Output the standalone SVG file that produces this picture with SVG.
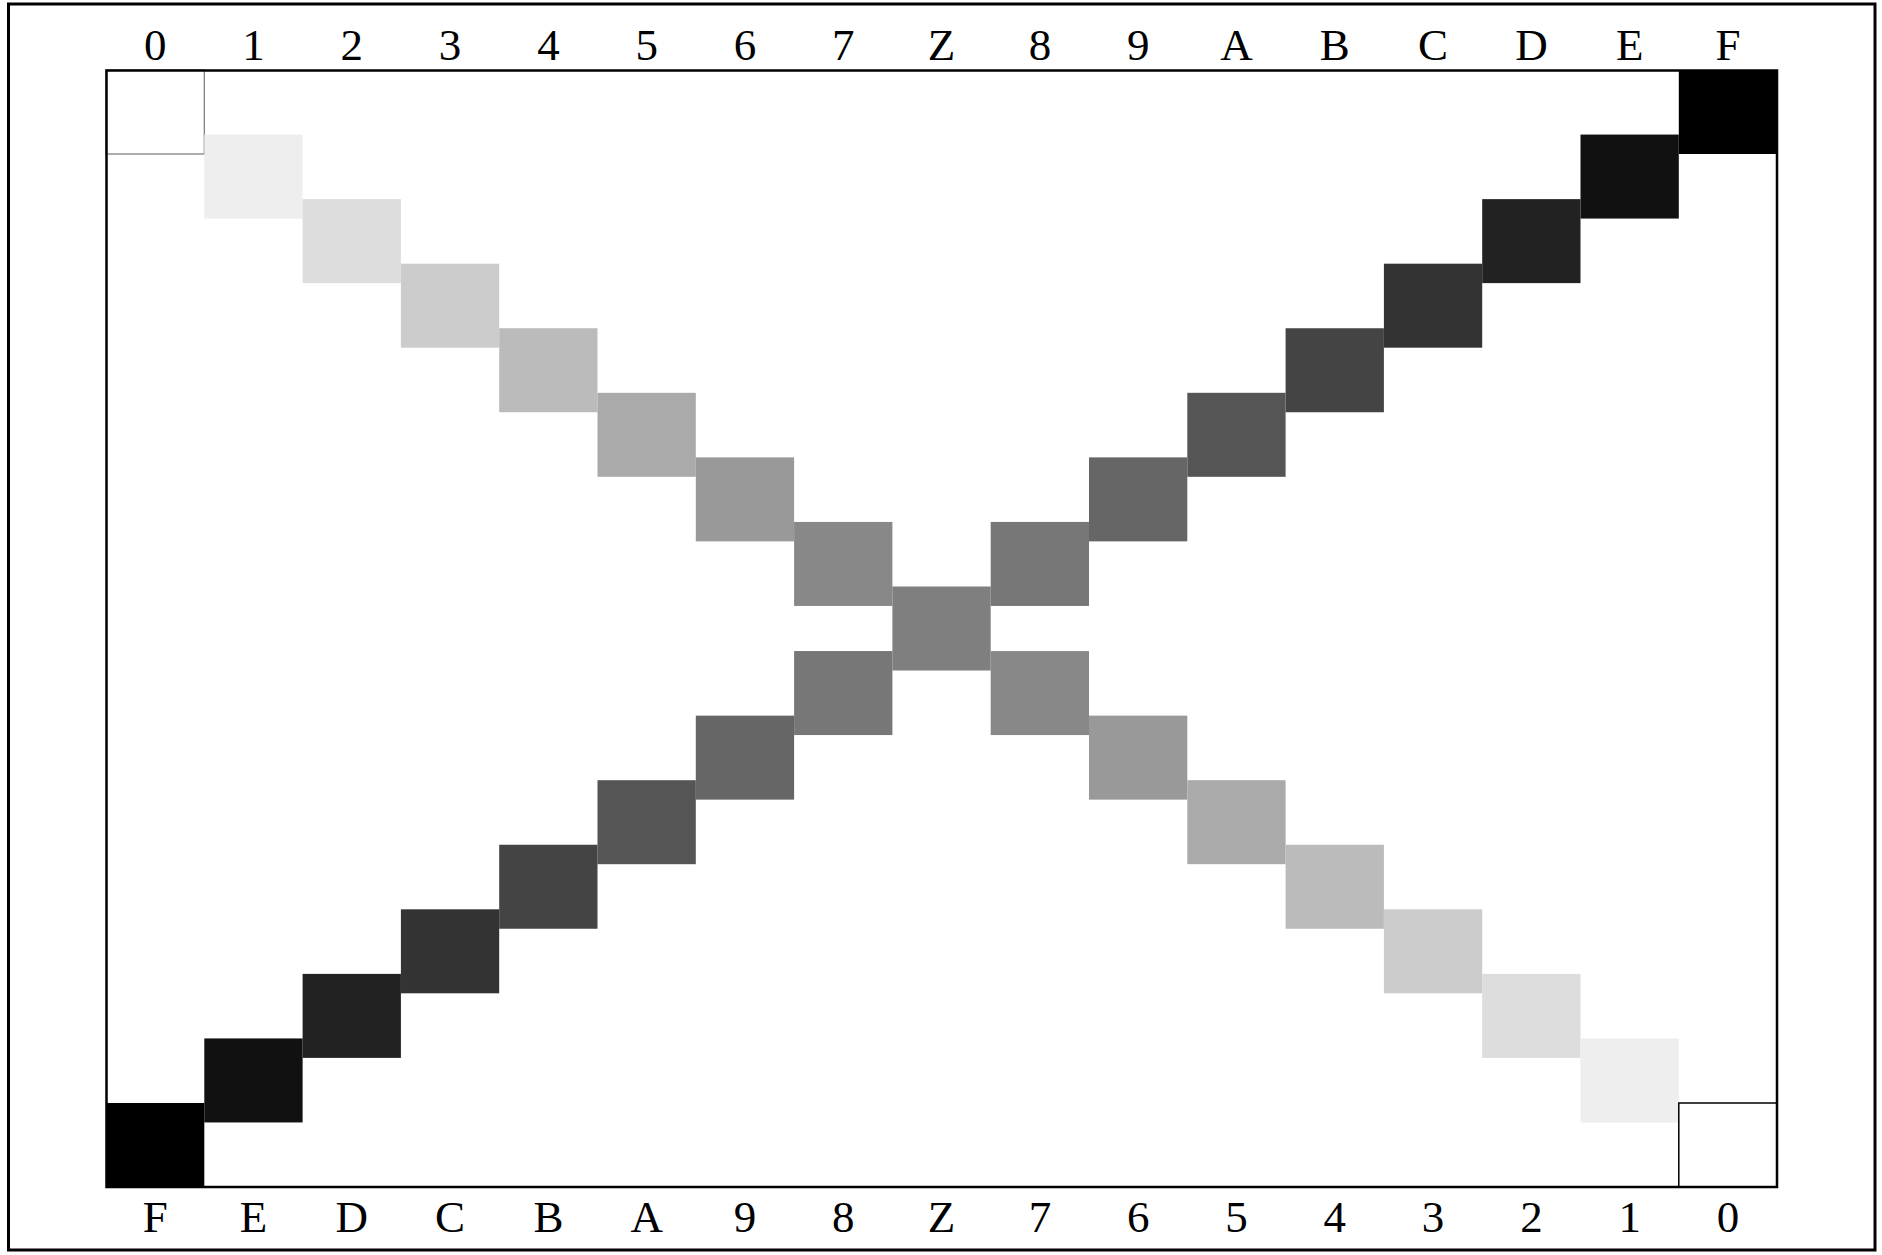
<svg xmlns="http://www.w3.org/2000/svg" width="1882" height="1255" viewBox="0 0 1882 1255">
<style>
text{font-family:"Liberation Serif","Times New Roman",serif;font-size:45px;text-anchor:middle;fill:#000}
.frame{fill:none;stroke:#000}
</style>
<rect width="1882" height="1255" fill="#fff"/>
<rect class="frame" x="8.5" y="4" width="1866.5" height="1246" stroke-width="3"/>
<g id="cells-main">
<rect id="m0" x="106" y="70" width="98.3" height="84" fill="#fff" stroke="#777" stroke-width="1.2"/>
<rect id="m1" x="204.3" y="134.56" width="98.3" height="84" fill="#eee"/>
<rect id="m2" x="302.6" y="199.13" width="98.3" height="84" fill="#ddd"/>
<rect id="m3" x="400.9" y="263.69" width="98.3" height="84" fill="#ccc"/>
<rect id="m4" x="499.2" y="328.25" width="98.3" height="84" fill="#bbb"/>
<rect id="m5" x="597.5" y="392.81" width="98.3" height="84" fill="#aaa"/>
<rect id="m6" x="695.8" y="457.38" width="98.3" height="84" fill="#999"/>
<rect id="m7" x="794.1" y="521.94" width="98.3" height="84" fill="#888"/>
<rect id="mZ" x="892.4" y="586.5" width="98.3" height="84" fill="#7f7f7f"/>
<rect id="m9" x="990.7" y="651.06" width="98.3" height="84" fill="#888"/>
<rect id="m10" x="1089" y="715.63" width="98.3" height="84" fill="#999"/>
<rect id="m11" x="1187.3" y="780.19" width="98.3" height="84" fill="#aaa"/>
<rect id="m12" x="1285.6" y="844.75" width="98.3" height="84" fill="#bbb"/>
<rect id="m13" x="1383.9" y="909.31" width="98.3" height="84" fill="#ccc"/>
<rect id="m14" x="1482.2" y="973.88" width="98.3" height="84" fill="#ddd"/>
<rect id="m15" x="1580.5" y="1038.44" width="98.3" height="84" fill="#eee"/>
<rect id="m16" x="1678.8" y="1103" width="98.3" height="84" fill="#fff" stroke="#000" stroke-width="1.5"/>
</g>
<g id="cells-anti">
<rect id="a16" x="1678.8" y="70" width="98.3" height="84" fill="#000"/>
<rect id="a15" x="1580.5" y="134.56" width="98.3" height="84" fill="#111"/>
<rect id="a14" x="1482.2" y="199.13" width="98.3" height="84" fill="#222"/>
<rect id="a13" x="1383.9" y="263.69" width="98.3" height="84" fill="#333"/>
<rect id="a12" x="1285.6" y="328.25" width="98.3" height="84" fill="#444"/>
<rect id="a11" x="1187.3" y="392.81" width="98.3" height="84" fill="#555"/>
<rect id="a10" x="1089" y="457.38" width="98.3" height="84" fill="#666"/>
<rect id="a9" x="990.7" y="521.94" width="98.3" height="84" fill="#777"/>
<rect id="a7" x="794.1" y="651.06" width="98.3" height="84" fill="#777"/>
<rect id="a6" x="695.8" y="715.63" width="98.3" height="84" fill="#666"/>
<rect id="a5" x="597.5" y="780.19" width="98.3" height="84" fill="#555"/>
<rect id="a4" x="499.2" y="844.75" width="98.3" height="84" fill="#444"/>
<rect id="a3" x="400.9" y="909.31" width="98.3" height="84" fill="#333"/>
<rect id="a2" x="302.6" y="973.88" width="98.3" height="84" fill="#222"/>
<rect id="a1" x="204.3" y="1038.44" width="98.3" height="84" fill="#111"/>
<rect id="a0" x="106" y="1103" width="98.3" height="84" fill="#000"/>
</g>
<rect id="inner-frame" class="frame" x="106.5" y="70.5" width="1670.5" height="1116.5" stroke-width="2.5"/>
<g id="top-labels">
<text x="155.2" y="60">0</text>
<text x="253.5" y="60">1</text>
<text x="351.8" y="60">2</text>
<text x="450.1" y="60">3</text>
<text x="548.4" y="60">4</text>
<text x="646.7" y="60">5</text>
<text x="745" y="60">6</text>
<text x="843.3" y="60">7</text>
<text x="941.6" y="60">Z</text>
<text x="1039.9" y="60">8</text>
<text x="1138.2" y="60">9</text>
<text x="1236.5" y="60">A</text>
<text x="1334.8" y="60">B</text>
<text x="1433.1" y="60">C</text>
<text x="1531.4" y="60">D</text>
<text x="1629.7" y="60">E</text>
<text x="1728" y="60">F</text>
</g>
<g id="bottom-labels">
<text x="155.2" y="1232">F</text>
<text x="253.5" y="1232">E</text>
<text x="351.8" y="1232">D</text>
<text x="450.1" y="1232">C</text>
<text x="548.4" y="1232">B</text>
<text x="646.7" y="1232">A</text>
<text x="745" y="1232">9</text>
<text x="843.3" y="1232">8</text>
<text x="941.6" y="1232">Z</text>
<text x="1039.9" y="1232">7</text>
<text x="1138.2" y="1232">6</text>
<text x="1236.5" y="1232">5</text>
<text x="1334.8" y="1232">4</text>
<text x="1433.1" y="1232">3</text>
<text x="1531.4" y="1232">2</text>
<text x="1629.7" y="1232">1</text>
<text x="1728" y="1232">0</text>
</g>
</svg>
